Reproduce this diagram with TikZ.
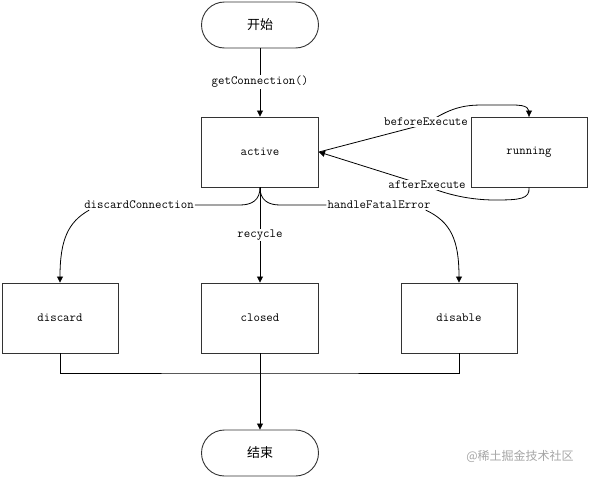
\documentclass[tikz,border=0pt]{standalone}
\usepackage{fontspec}
\newfontfamily\cjk{Noto Sans CJK SC}
\usetikzlibrary{arrows.meta}
\begin{document}
\begin{tikzpicture}[x=1pt,y=-1pt,
  txt/.style={font=\ttfamily\fontsize{12.5pt}{14pt}\selectfont},
  box/.style={draw=black!80,line width=0.9pt,minimum width=116pt,minimum height=70pt,inner sep=0pt,txt},
  stadium/.style={draw=black!80,line width=0.9pt,rounded corners=23pt,minimum width=117pt,minimum height=46pt,inner sep=0pt,font=\cjk\fontsize{13pt}{15pt}\selectfont},
  lbl/.style={fill=white,inner sep=1pt,txt},
  conn/.style={draw=black,line width=0.8pt},
  arr/.style={conn,-{Triangle[length=6pt,width=6pt]}}]
\useasboundingbox (0,0) rectangle (590,477);
\fill[white] (0,0) rectangle (590,477);
% nodes
\node[stadium] (start) at (260,25) {开始};
\node[box,minimum width=117pt] (active) at (260,152) {active};
\node[box] (running) at (529,152) {running};
\node[box] (discard) at (60,318) {discard};
\node[box,minimum width=117pt] (closed) at (260,318) {closed};
\node[box] (disable) at (459,318) {disable};
\node[stadium] (end) at (260,453) {结束};
\coordinate (j) at (260,373);
\node[lbl] (dc) at (139,205) {discardConnection};
\node[lbl] (hfe) at (379,205) {handleFatalError};
% connectors
\draw[arr] (start.south) -- (active.north);
\draw[arr] (active.south) -- (closed.north);
\draw[conn] (active.south) .. controls (260,200) and (252,205) .. (240,205) -- (dc.east);
\draw[conn] (active.south) .. controls (260,200) and (268,205) .. (280,205) -- (hfe.west);
\draw[conn] (active.east) -- (426,124) .. controls (455,104) and (470,105) .. (490,105) -- (512,105) .. controls (528,105) and (530,108) .. (running.north);
\draw[arr] (running.north) ++(0,-3) -- (running.north);
\draw[arr] (running.south) .. controls (530,199) and (520,200) .. (495,200) .. controls (465,200) and (440,192) .. (427,186) -- (active.east);
\draw[conn] (discard.south) |- (j) -| (disable.south);
\draw[arr] (closed.south) -- (end.north);
\draw[arr] ([xshift=6pt]dc.south west) .. controls (68,222) and (60,240) .. (discard.north);
\draw[arr] ([xshift=-6pt]hfe.south east) .. controls (451,222) and (459,240) .. (disable.north);
% labels on lines
\node[lbl] (gc) at (260,82) {getConnection()};
\node[lbl] (rc) at (260,235) {recycle};
\node[lbl] (be) at (426,122) {beforeExecute};
\node[lbl] (ae) at (427,185) {afterExecute};
\node[text=black!35,font=\cjk\fontsize{12pt}{14pt}\selectfont] (wm) at (520,456) {@稀土掘金技术社区};
\end{tikzpicture}
\end{document}
